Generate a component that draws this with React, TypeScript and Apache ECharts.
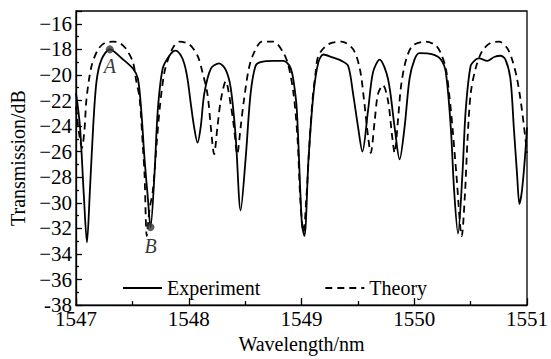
import React, { useEffect, useRef } from "react";
import * as echarts from "echarts";

const expWavelength = [
  1547.0, 1547.035, 1547.07, 1547.097, 1547.123, 1547.152, 1547.182, 1547.226, 1547.3, 1547.405,
  1547.505, 1547.549, 1547.579, 1547.608, 1547.637, 1547.661, 1547.696, 1547.725, 1547.769, 1547.828,
  1547.881, 1547.925, 1547.96, 1547.989, 1548.019, 1548.048, 1548.078, 1548.107, 1548.137, 1548.196,
  1548.269, 1548.328, 1548.372, 1548.416, 1548.46, 1548.504, 1548.548, 1548.592, 1548.636, 1548.753,
  1548.841, 1548.9, 1548.93, 1548.959, 1549.003, 1549.026, 1549.062, 1549.106, 1549.15, 1549.194,
  1549.267, 1549.355, 1549.414, 1549.458, 1549.502, 1549.54, 1549.59, 1549.634, 1549.693, 1549.767,
  1549.826, 1549.87, 1549.914, 1549.958, 1550.002, 1550.046, 1550.163, 1550.236, 1550.28, 1550.324,
  1550.354, 1550.388, 1550.427, 1550.456, 1550.5, 1550.544, 1550.574, 1550.648, 1550.709, 1550.765,
  1550.809, 1550.853, 1550.883, 1550.912, 1550.933, 1550.956, 1550.985, 1551.0,
];
const expTransmission = [
  -21.4, -24.0, -29.5, -33.1, -29.1, -24.1, -20.5, -18.8, -18.0, -18.7,
  -19.5, -20.3, -22.8, -26.6, -29.6, -31.9, -27.8, -22.8, -19.5, -18.5,
  -18.1, -18.4, -19.1, -20.3, -22.3, -24.1, -25.3, -24.0, -21.5, -19.5,
  -19.1, -19.6, -21.0, -24.8, -30.6, -26.6, -21.5, -19.3, -19.0, -18.9,
  -18.9, -19.4, -20.5, -22.8, -31.6, -32.6, -26.6, -21.5, -19.0, -18.4,
  -18.6, -18.9, -19.3, -21.5, -24.1, -26.0, -22.8, -19.8, -18.8, -20.3,
  -24.1, -26.6, -24.1, -20.3, -18.8, -18.3, -18.4, -18.8, -19.8, -24.1,
  -29.1, -32.4, -27.8, -22.8, -19.3, -18.8, -18.7, -18.9, -18.6, -18.5,
  -18.8, -20.3, -24.1, -27.8, -30.1, -29.0, -26.1, -24.1,
];

const theoryWavelength = [
  1547.0, 1547.026, 1547.053, 1547.075, 1547.094, 1547.138, 1547.196, 1547.256, 1547.329, 1547.388,
  1547.447, 1547.505, 1547.535, 1547.564, 1547.593, 1547.608, 1547.628, 1547.652, 1547.681, 1547.716,
  1547.746, 1547.784, 1547.828, 1547.872, 1547.916, 1548.004, 1548.078, 1548.122, 1548.166, 1548.196,
  1548.225, 1548.254, 1548.284, 1548.328, 1548.372, 1548.401, 1548.43, 1548.46, 1548.489, 1548.533,
  1548.577, 1548.65, 1548.753, 1548.841, 1548.885, 1548.93, 1548.965, 1548.991, 1549.018, 1549.044,
  1549.07, 1549.097, 1549.123, 1549.15, 1549.238, 1549.355, 1549.458, 1549.517, 1549.555, 1549.59,
  1549.614, 1549.649, 1549.678, 1549.722, 1549.767, 1549.804, 1549.826, 1549.855, 1549.884, 1549.928,
  1549.987, 1550.104, 1550.192, 1550.236, 1550.28, 1550.31, 1550.339, 1550.374, 1550.421, 1550.451,
  1550.471, 1550.5, 1550.544, 1550.604, 1550.677, 1550.751, 1550.824, 1550.868, 1550.912, 1550.956,
  1551.0,
];
const theoryTransmission = [
  -22.5, -24.5, -25.7, -24.3, -21.8, -19.3, -18.0, -17.5, -17.4, -17.5,
  -18.0, -19.0, -20.5, -21.8, -25.6, -27.8, -32.6, -30.5, -29.1, -25.3,
  -22.3, -19.8, -18.5, -17.7, -17.4, -17.6, -18.5, -19.8, -21.5, -24.1,
  -26.2, -24.1, -22.0, -20.5, -22.3, -24.1, -26.2, -24.1, -22.0, -19.5,
  -18.3, -17.4, -17.4, -18.3, -19.3, -21.5, -25.0, -30.0, -32.3, -29.5,
  -25.5, -22.0, -20.0, -18.5, -17.6, -17.4, -18.0, -19.5, -22.0, -24.8,
  -26.1, -23.6, -21.5, -20.8, -22.0, -24.8, -26.1, -23.6, -20.8, -18.8,
  -17.7, -17.4, -17.7, -18.3, -19.5, -21.5, -24.1, -27.8, -32.6, -29.1,
  -25.3, -21.5, -19.5, -18.1, -17.5, -17.4, -17.9, -18.8, -20.3, -22.8,
  -26.1,
];

const markNames = ["A", "B"];
const markWavelength = [1547.3, 1547.661];
const markTransmission = [-18.0, -31.9];
const markLabelDistance = [3, 5];

const xTicks = [1547, 1548, 1549, 1550, 1551];
const seriesNames = ["Experiment", "Theory"];

const FONT = "'Liberation Serif', 'Times New Roman', serif";

export default function App() {
  const ref = useRef<HTMLDivElement>(null);
  useEffect(() => {
    if (!ref.current) return;
    const chart = echarts.init(ref.current, null, { renderer: "svg" });
    const expData = expWavelength.map((w, i) => [w, expTransmission[i]]);
    const thData = theoryWavelength.map((w, i) => [w, theoryTransmission[i]]);
    const marks = markNames.map((n, i) => ({
      name: n,
      value: [markWavelength[i], markTransmission[i]],
      label: { distance: markLabelDistance[i] },
    }));
    chart.setOption({
      animation: false,
      backgroundColor: "#fff",
      textStyle: { fontFamily: FONT, color: "#000" },
      grid: {
        left: 76,
        right: 21,
        top: 11,
        bottom: 45,
        show: true,
        borderColor: "#000",
        borderWidth: 1.3,
        backgroundColor: "transparent",
      },
      legend: {
        data: seriesNames,
        left: 122,
        top: 278,
        padding: 0,
        itemWidth: 39,
        itemHeight: 20,
        itemGap: 64,
        itemStyle: { opacity: 0 },
        textStyle: { fontFamily: FONT, fontSize: 20, color: "#000" },
      },
      xAxis: {
        type: "value",
        min: xTicks[0],
        max: xTicks[xTicks.length - 1],
        interval: 1,
        name: "Wavelength/nm",
        nameLocation: "middle",
        nameGap: 27,
        nameTextStyle: { fontFamily: FONT, fontSize: 20, color: "#000" },
        axisLine: { show: true, lineStyle: { color: "#000", width: 1.3 } },
        axisTick: { show: true, inside: true, length: 7, lineStyle: { color: "#000", width: 1.3 } },
        minorTick: { show: true, splitNumber: 2, length: 4, lineStyle: { color: "#000", width: 1.3 } },
        axisLabel: {
          fontFamily: FONT,
          fontSize: 21,
          color: "#000",
          margin: 3,
          formatter: (v: number) => String(v),
        },
        splitLine: { show: false },
      },
      yAxis: {
        type: "value",
        min: -38,
        max: -15,
        interval: 2,
        name: "Transmission/dB",
        nameLocation: "middle",
        nameGap: 46,
        nameTextStyle: { fontFamily: FONT, fontSize: 20, color: "#000" },
        axisLine: { show: true, lineStyle: { color: "#000", width: 1.3 } },
        axisTick: { show: true, inside: true, length: 6, lineStyle: { color: "#000", width: 1.3 } },
        minorTick: { show: true, splitNumber: 2, length: 3, lineStyle: { color: "#000", width: 1.3 } },
        axisLabel: {
          fontFamily: FONT,
          fontSize: 21,
          color: "#000",
          margin: 4,
          showMaxLabel: false,
          formatter: (v: number) => (v === -38 ? "-38" : v < 0 ? "\u2212" + Math.abs(v) : String(v)),
        },
        splitLine: { show: false },
      },
      series: [
        {
          name: seriesNames[0],
          type: "line",
          data: expData,
          showSymbol: false,
          symbol: "none",
          smooth: 0.3,
          lineStyle: { color: "#000", width: 1.8, type: "solid" },
          itemStyle: { color: "#000" },
          z: 3,
        },
        {
          name: seriesNames[1],
          type: "line",
          data: thData,
          showSymbol: false,
          symbol: "none",
          smooth: 0.3,
          lineStyle: { color: "#000", width: 1.8, type: [7, 5] },
          itemStyle: { color: "#000" },
          z: 2,
        },
        {
          name: "marks",
          type: "scatter",
          data: marks,
          symbol: "circle",
          symbolSize: 8,
          itemStyle: { color: "#333" },
          label: {
            show: true,
            position: "bottom",
            formatter: (p: any) => p.name,
            fontFamily: FONT,
            fontStyle: "italic",
            fontSize: 20,
            color: "#000",
          },
          z: 4,
        },
      ],
    });
    return () => chart.dispose();
  }, []);
  return <div ref={ref} style={{ position: "fixed", left: 0, top: 0, width: 551, height: 359 }} />;
}
